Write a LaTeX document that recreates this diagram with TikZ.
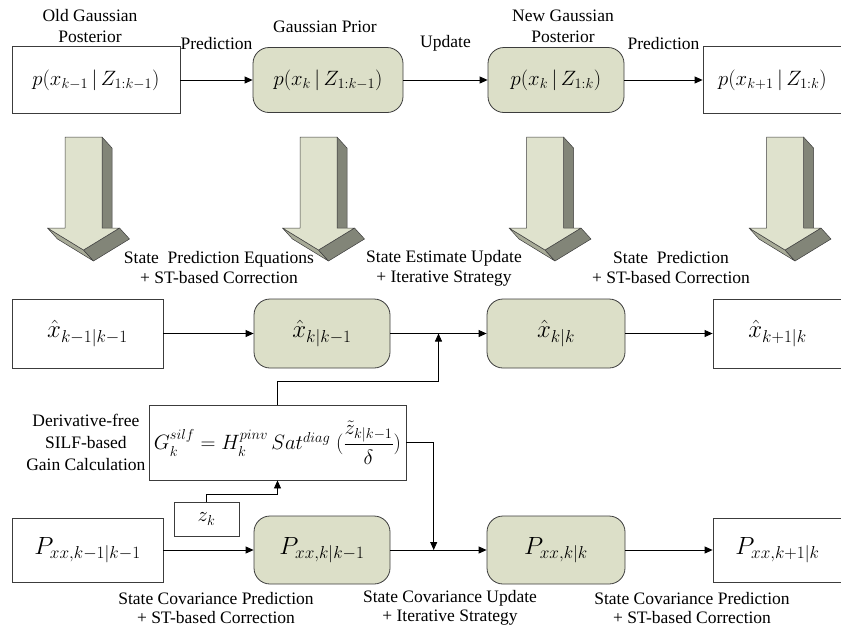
\documentclass[tikz,border=0pt]{standalone}
\usepackage{amsmath}
\usepackage{fontspec}
\setmainfont{Liberation Serif}
\usetikzlibrary{calc,arrows.meta,positioning}
\definecolor{boxGreen}{RGB}{220,223,200}
\definecolor{lineGrey}{RGB}{60,60,60}
\definecolor{arrowLight}{RGB}{223,226,205}
\definecolor{arrowMid}{RGB}{168,171,152}
\definecolor{arrowDark}{RGB}{130,133,120}
\tikzset{
  plainBox/.style={draw=lineGrey,line width=.8pt,fill=white,inner sep=0pt,font=\fontsize{21}{25}\selectfont},
  stateBox/.style={plainBox,fill=boxGreen,rounded corners=16pt},
  flowArrow/.style={draw=black,line width=.8pt,-{Triangle[length=8pt,width=7pt]}},
  noteText/.style={align=center,inner sep=0pt,font=\fontsize{17.5}{20}\selectfont},
}
% 3D block arrow, front face centred at x=#1
\newcommand{\blockArrow}[1]{%
  \begin{scope}[shift={(#1,0)},line width=.5pt,line join=round]
    \filldraw[draw=lineGrey,fill=arrowDark] (18.5,137) -- (28.5,148) -- (28.5,239) -- (18.5,228) -- cycle;
    \filldraw[draw=lineGrey,fill=arrowMid] (-36,228) -- (-26,239) -- (10,261) -- (0,250) -- cycle;
    \filldraw[draw=lineGrey,fill=arrowDark] (36,228) -- (46,239) -- (10,261) -- (0,250) -- cycle;
    \filldraw[draw=lineGrey,fill=arrowLight] (-18.5,137) -- (18.5,137) -- (18.5,228) -- (36,228)
      -- (0,250) -- (-36,228) -- (-18.5,228) -- cycle;
  \end{scope}}

\begin{document}
\begin{tikzpicture}[x=1pt,y=-1pt]
\useasboundingbox (0,0) rectangle (841,633);

% densities
\node[plainBox,minimum width=168pt,minimum height=67pt] (t1) at (96,80) {$p(x_{k-1}\,|\,Z_{1:k-1})$};
\node[stateBox,minimum width=150pt,minimum height=65pt] (t2) at (328,80) {$p(x_{k}\,|\,Z_{1:k-1})$};
\node[stateBox,minimum width=136pt,minimum height=65pt] (t3) at (556,80) {$p(x_{k}\,|\,Z_{1:k})$};
\node[plainBox,minimum width=139pt,minimum height=67pt] (t4) at (772.5,80) {$p(x_{k+1}\,|\,Z_{1:k})$};
\node[noteText] (oldPost) at (90,26.5) {Old Gaussian\\[1pt]Posterior};
\node[noteText] (prior) at (325,27) {Gaussian Prior};
\node[noteText] (newPost) at (563,26.5) {New Gaussian\\[1pt]Posterior};
\draw[flowArrow] (t1) -- node[noteText,above=30pt] {Prediction} (t2);
\draw[flowArrow] (t2) -- node[noteText,above=28pt] {Update} (t3);
\draw[flowArrow] (t3) -- node[noteText,above=30pt] {Prediction} (t4);

% block arrows
\blockArrow{83.5}
\blockArrow{318.5}
\blockArrow{545}
\blockArrow{785}
\node[noteText] (predNote) at (219,268) {State\ \ Prediction Equations\\+ ST-based Correction};
\node[noteText] (updNote) at (444,268) {State Estimate Update\\+ Iterative Strategy};
\node[noteText] (predNoteB) at (671,268) {State\ \ Prediction\\+ ST-based Correction};

% state estimates
\node[plainBox,minimum width=151pt,minimum height=69pt,font=\fontsize{24}{28}\selectfont] (m1) at (87.5,333.5) {$\hat{x}_{k-1|k-1}$};
\node[stateBox,minimum width=136pt,minimum height=69pt,font=\fontsize{24}{28}\selectfont] (m2) at (322,333.5) {$\hat{x}_{k|k-1}$};
\node[stateBox,minimum width=138pt,minimum height=69pt,font=\fontsize{24}{28}\selectfont] (m3) at (556,333.5) {$\hat{x}_{k|k}$};
\node[plainBox,minimum width=129pt,minimum height=69pt,font=\fontsize{24}{28}\selectfont] (m4) at (777.5,333.5) {$\hat{x}_{k+1|k}$};
\draw[flowArrow] (m1) -- (m2);
\draw[flowArrow] (m2) -- (m3);
\draw[flowArrow] (m3) -- (m4);
\coordinate (j1) at ($(m2.east)!.5!(m3.west)$);

% gain
\node[plainBox,minimum width=257pt,minimum height=75pt,font=\fontsize{22}{26}\selectfont] (G) at (277.5,442.5)
  {$G_k^{silf}=H_k^{pinv}\,Sat^{diag}\;(\dfrac{\tilde{z}_{k|k-1}}{\delta})$};
\node[noteText,font=\fontsize{17.5}{22}\selectfont,left=3pt of G] (gainNote) {Derivative-free\\SILF-based\\Gain Calculation};
\node[plainBox,minimum width=65pt,minimum height=34pt] (z) at (206.5,519) {$z_k$};
\draw[flowArrow] (G.north) -- ++(0,-23) -| (j1);
\draw[flowArrow] (z.north) -- ++(0,-7) -| (G.south);

% covariances
\node[plainBox,minimum width=151pt,minimum height=64pt,font=\fontsize{24}{28}\selectfont] (p1) at (87.5,550) {$P_{xx,k-1|k-1}$};
\node[stateBox,minimum width=136pt,minimum height=68pt,font=\fontsize{24}{28}\selectfont] (p2) at (322,550) {$P_{xx,k|k-1}$};
\node[stateBox,minimum width=138pt,minimum height=68pt,font=\fontsize{24}{28}\selectfont] (p3) at (556,550) {$P_{xx,k|k}$};
\node[plainBox,minimum width=129pt,minimum height=64pt,font=\fontsize{24}{28}\selectfont] (p4) at (777.5,550) {$P_{xx,k+1|k}$};
\draw[flowArrow] (p1) -- (p2);
\draw[flowArrow] (p2) -- (p3);
\draw[flowArrow] (p3) -- (p4);
\coordinate (j2) at ($(p2.east)!.45!(p3.west)$);
\draw[flowArrow] (G.east) -| (j2);
\node[noteText,font=\fontsize{17.5}{19}\selectfont] (covNote) at (216,608) {State Covariance Prediction\\+ ST-based Correction};
\node[noteText,font=\fontsize{17.5}{19}\selectfont] (covUpd) at (450,608) {State Covariance Update\\+ Iterative Strategy};
\node[noteText,font=\fontsize{17.5}{19}\selectfont] (covNoteB) at (692,608) {State Covariance Prediction\\+ ST-based Correction};
\end{tikzpicture}
\end{document}
